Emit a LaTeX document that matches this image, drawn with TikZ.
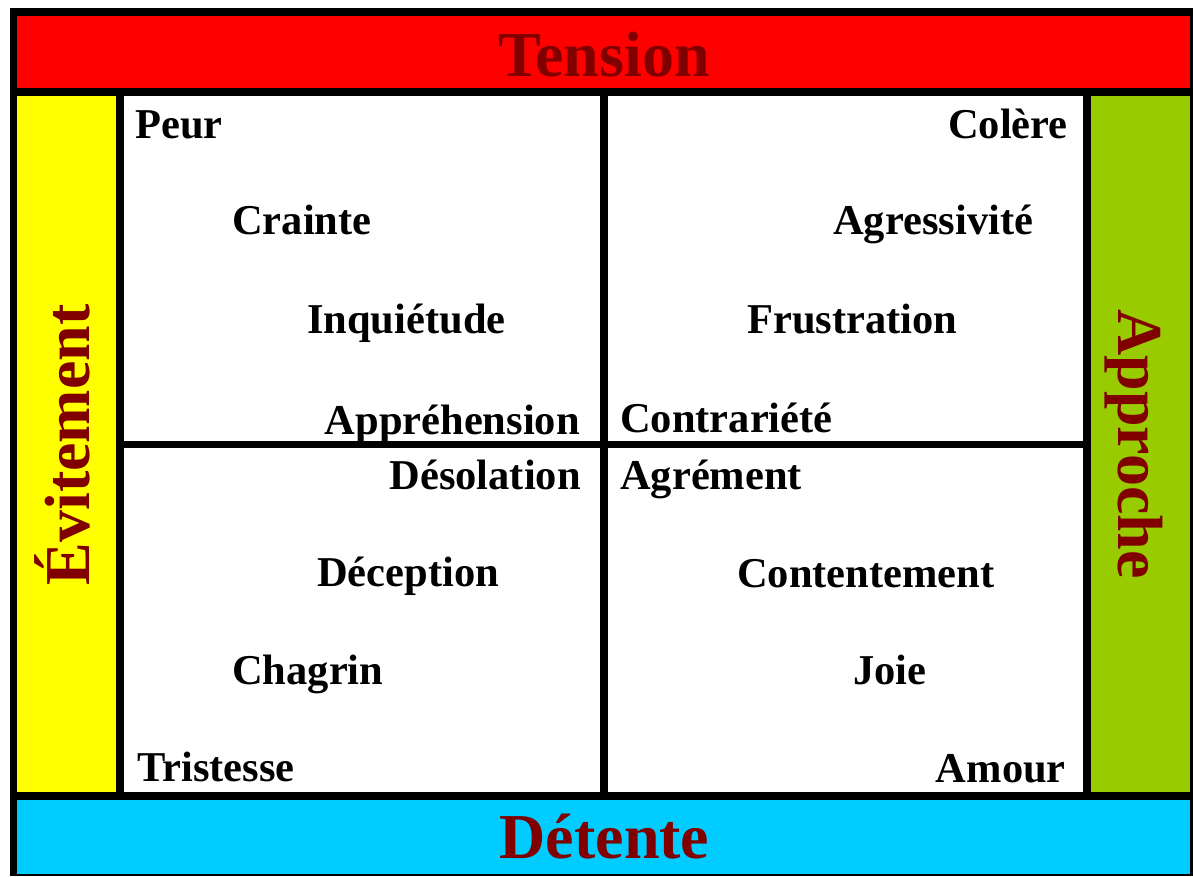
\documentclass[tikz,border=0pt]{standalone}
\usepackage{fontspec}
\setmainfont{Liberation Serif}
\definecolor{titlered}{HTML}{800000}
\definecolor{tensionred}{HTML}{FF0000}
\definecolor{evityellow}{HTML}{FFFF00}
\definecolor{approgreen}{HTML}{99CC00}
\definecolor{detcyan}{HTML}{00CCFF}
\begin{document}
\begin{tikzpicture}[x=1pt,y=-1pt,
  lbl/.style={inner sep=0pt, font=\fontsize{42.5}{42.5}\selectfont\bfseries},
  ttl/.style={inner sep=0pt, text=titlered, font=\fontsize{64}{64}\selectfont\bfseries}]
\useasboundingbox (0,0) rectangle (1193,876);
% frame
\fill[black] (10,8) rectangle (1193,876);
% bands
\fill[tensionred] (17,16) rectangle (1190,88);
\fill[evityellow] (17,96) rectangle (116,792);
\fill[approgreen] (1091,96) rectangle (1190,792);
\fill[detcyan] (17,800) rectangle (1190,874);
% quadrants
\fill[white] (124,96) rectangle (600,441);
\fill[white] (608,96) rectangle (1083,441);
\fill[white] (124,448) rectangle (600,792);
\fill[white] (608,448) rectangle (1083,792);
% titles
\node[ttl, anchor=base] (tension) at (604,76) {Tension};
\node[ttl, anchor=base] (detente) at (604.5,858) {Détente};
\node[ttl, anchor=base, rotate=90] (evitement) at (89,445) {Évitement};
\node[ttl, anchor=base, rotate=-90] (approche) at (1118,444) {Approche};
% top-left
\node[lbl, anchor=base west] (peur) at (135,138) {Peur};
\node[lbl, anchor=base west] (crainte) at (232,234) {Crainte};
\node[lbl, anchor=base west] (inquietude) at (307,333) {Inquiétude};
\node[lbl, anchor=base east] (apprehension) at (580,434) {Appréhension};
% top-right
\node[lbl, anchor=base east] (colere) at (1068,138) {Colère};
\node[lbl, anchor=base west] (agressivite) at (833,234) {Agressivité};
\node[lbl, anchor=base west] (frustration) at (747,333) {Frustration};
\node[lbl, anchor=base west] (contrariete) at (620,432) {Contrariété};
% bottom-left
\node[lbl, anchor=base east] (desolation) at (581,489) {Désolation};
\node[lbl, anchor=base west] (deception) at (317,586) {Déception};
\node[lbl, anchor=base west] (chagrin) at (232,684) {Chagrin};
\node[lbl, anchor=base west] (tristesse) at (137,781) {Tristesse};
% bottom-right
\node[lbl, anchor=base west] (agrement) at (620,489) {Agrément};
\node[lbl, anchor=base west] (contentement) at (737,587) {Contentement};
\node[lbl, anchor=base west] (joie) at (853,684) {Joie};
\node[lbl, anchor=base east] (amour) at (1066,782) {Amour};
\end{tikzpicture}
\end{document}
